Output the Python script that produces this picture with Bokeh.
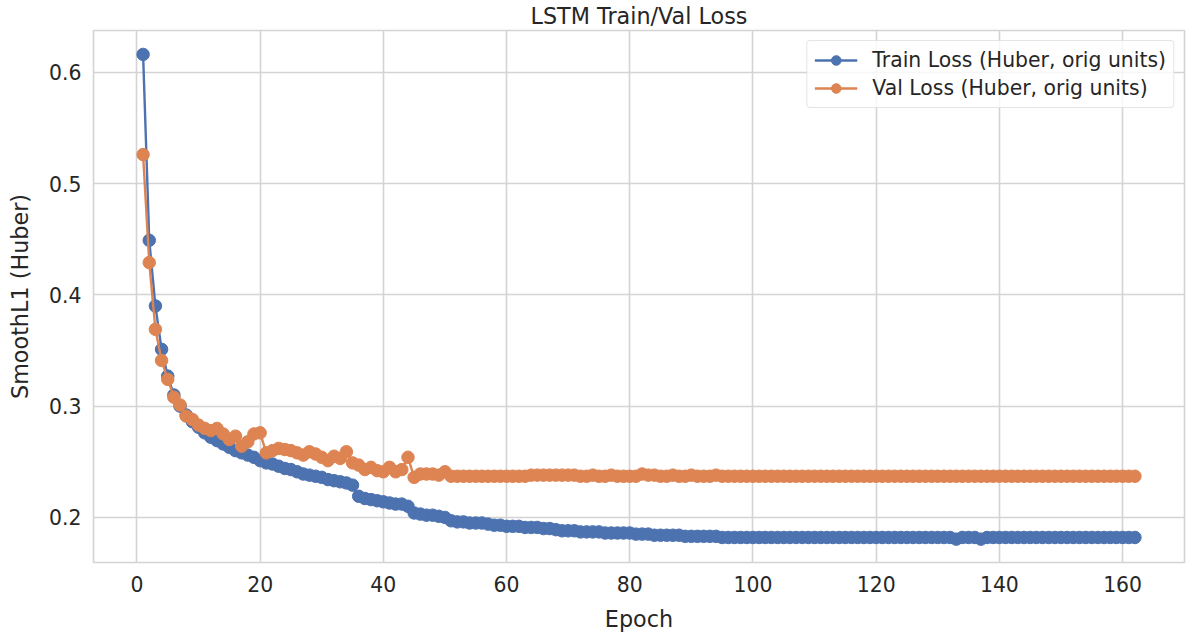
from bokeh.plotting import figure
from bokeh.models import FixedTicker, Range1d, Title
from bokeh.embed import file_html
from bokeh.resources import INLINE

epochs = list(range(1, 163))

train_loss = [
    0.616, 0.449, 0.390, 0.351, 0.327, 0.310, 0.300, 0.292, 0.286, 0.281,
    0.276, 0.272, 0.269, 0.266, 0.263, 0.260, 0.258, 0.256, 0.254, 0.251,
    0.249, 0.248, 0.246, 0.244, 0.243, 0.241, 0.239, 0.238, 0.237, 0.236,
    0.234, 0.233, 0.232, 0.231, 0.229, 0.219, 0.217, 0.216, 0.215, 0.214,
    0.213, 0.212, 0.212, 0.210, 0.204, 0.203, 0.202, 0.202, 0.201, 0.200,
    0.197, 0.196, 0.196, 0.195, 0.195, 0.195, 0.194, 0.193, 0.193, 0.192,
    0.192, 0.192, 0.191, 0.191, 0.191, 0.190, 0.190, 0.189, 0.188, 0.188,
    0.188, 0.187, 0.187, 0.187, 0.187, 0.186, 0.186, 0.186, 0.186, 0.186,
    0.185, 0.185, 0.185, 0.184, 0.184, 0.184, 0.184, 0.184, 0.183, 0.183,
    0.183, 0.183, 0.183, 0.183, 0.182, 0.182, 0.182, 0.182, 0.182, 0.182,
    0.182, 0.182, 0.182, 0.182, 0.182, 0.182, 0.182, 0.182, 0.182, 0.182,
    0.182, 0.182, 0.182, 0.182, 0.182, 0.182, 0.182, 0.182, 0.182, 0.182,
    0.182, 0.182, 0.182, 0.182, 0.182, 0.182, 0.182, 0.182, 0.182, 0.182,
    0.182, 0.182, 0.1805, 0.182, 0.182, 0.182, 0.1805, 0.182, 0.182, 0.182,
    0.182, 0.182, 0.182, 0.182, 0.182, 0.182, 0.182, 0.182, 0.182, 0.182,
    0.182, 0.182, 0.182, 0.182, 0.182, 0.182, 0.182, 0.182, 0.182, 0.182,
    0.182, 0.182,
]

val_loss = [
    0.526, 0.429, 0.369, 0.341, 0.324, 0.308, 0.301, 0.291, 0.288, 0.283,
    0.280, 0.278, 0.280, 0.275, 0.270, 0.273, 0.264, 0.268, 0.275, 0.276,
    0.258, 0.260, 0.262, 0.261, 0.260, 0.258, 0.256, 0.259, 0.257, 0.254,
    0.251, 0.255, 0.253, 0.259, 0.249, 0.247, 0.243, 0.245, 0.242, 0.241,
    0.245, 0.241, 0.243, 0.254, 0.236, 0.239, 0.239, 0.239, 0.238, 0.241,
    0.237, 0.237, 0.237, 0.237, 0.237, 0.237, 0.237, 0.237, 0.237, 0.237,
    0.237, 0.237, 0.237, 0.238, 0.238, 0.238, 0.238, 0.238, 0.238, 0.238,
    0.238, 0.237, 0.237, 0.238, 0.237, 0.237, 0.238, 0.237, 0.237, 0.237,
    0.237, 0.239, 0.238, 0.238, 0.237, 0.237, 0.238, 0.237, 0.237, 0.238,
    0.237, 0.237, 0.237, 0.238, 0.237, 0.237, 0.237, 0.237, 0.237, 0.237,
    0.237, 0.237, 0.237, 0.237, 0.237, 0.237, 0.237, 0.237, 0.237, 0.237,
    0.237, 0.237, 0.237, 0.237, 0.237, 0.237, 0.237, 0.237, 0.237, 0.237,
    0.237, 0.237, 0.237, 0.237, 0.237, 0.237, 0.237, 0.237, 0.237, 0.237,
    0.237, 0.237, 0.237, 0.237, 0.237, 0.237, 0.237, 0.237, 0.237, 0.237,
    0.237, 0.237, 0.237, 0.237, 0.237, 0.237, 0.237, 0.237, 0.237, 0.237,
    0.237, 0.237, 0.237, 0.237, 0.237, 0.237, 0.237, 0.237, 0.237, 0.237,
    0.237, 0.237,
]

x_ticks = [0, 20, 40, 60, 80, 100, 120, 140, 160]
y_ticks = [0.2, 0.3, 0.4, 0.5, 0.6]

title_text = "LSTM Train/Val Loss"
x_label = "Epoch"
y_label = "SmoothL1 (Huber)"
train_label = "Train Loss (Huber, orig units)"
val_label = "Val Loss (Huber, orig units)"

BLUE = "#4C72B0"
ORANGE = "#DD8452"
GRID = "#d4d4d4"
TEXT = "#262626"
FONT = "DejaVu Sans"

p = figure(
    width=1192, height=636,
    x_range=Range1d(-7.05, 170.05),
    y_range=Range1d(0.1595, 0.6375),
    output_backend="svg", toolbar_location=None,
    min_border_left=93, min_border_right=8,
    min_border_top=30, min_border_bottom=74,
    background_fill_color="white", border_fill_color="white",
)

p.title = Title(text=title_text, align="center", vertical_align="top",
                text_font=FONT, text_font_size="22.3px",
                text_font_style="normal", text_color=TEXT, standoff=0)

p.outline_line_color = GRID
p.outline_line_width = 1.6

for ax in (p.xaxis[0], p.yaxis[0]):
    ax.axis_line_color = None
    ax.major_tick_line_color = None
    ax.minor_tick_line_color = None
    ax.major_tick_out = 0
    ax.major_tick_in = 0
    ax.minor_tick_out = 0
    ax.major_label_text_font = FONT
    ax.major_label_text_font_size = "20.4px"
    ax.major_label_text_color = TEXT
    ax.axis_label_text_font = FONT
    ax.axis_label_text_font_size = "22.3px"
    ax.axis_label_text_font_style = "normal"
    ax.axis_label_text_color = TEXT

p.xaxis[0].ticker = FixedTicker(ticks=x_ticks)
p.yaxis[0].ticker = FixedTicker(ticks=y_ticks)
p.xaxis[0].axis_label = x_label
p.yaxis[0].axis_label = y_label
p.xaxis[0].major_label_standoff = 13
p.yaxis[0].major_label_standoff = 12
p.xaxis[0].axis_label_standoff = 11
p.yaxis[0].axis_label_standoff = 13

p.xgrid[0].ticker = FixedTicker(ticks=x_ticks)
p.ygrid[0].ticker = FixedTicker(ticks=y_ticks)
for g in (p.xgrid[0], p.ygrid[0]):
    g.grid_line_color = GRID
    g.grid_line_width = 1.6

p.line(epochs, train_loss, line_color=BLUE, line_width=2.4, legend_label=train_label)
p.scatter(epochs, train_loss, size=12.5, fill_color=BLUE, line_color=BLUE,
          line_width=1, legend_label=train_label)
p.line(epochs, val_loss, line_color=ORANGE, line_width=2.4, legend_label=val_label)
p.scatter(epochs, val_loss, size=12.5, fill_color=ORANGE, line_color=ORANGE,
          line_width=1, legend_label=val_label)

lg = p.legend[0]
lg.location = "top_right"
lg.margin = 10
lg.padding = 7
lg.spacing = 4
lg.glyph_width = 43
lg.glyph_height = 24
lg.label_height = 24
lg.label_standoff = 15
lg.label_text_font = FONT
lg.label_text_font_size = "20.4px"
lg.label_text_color = TEXT
lg.border_line_color = "#cccccc"
lg.border_line_width = 1.3
lg.background_fill_color = "white"
lg.background_fill_alpha = 0.8
lg.border_radius = 4

open("out.html", "w").write(file_html(p, INLINE))
